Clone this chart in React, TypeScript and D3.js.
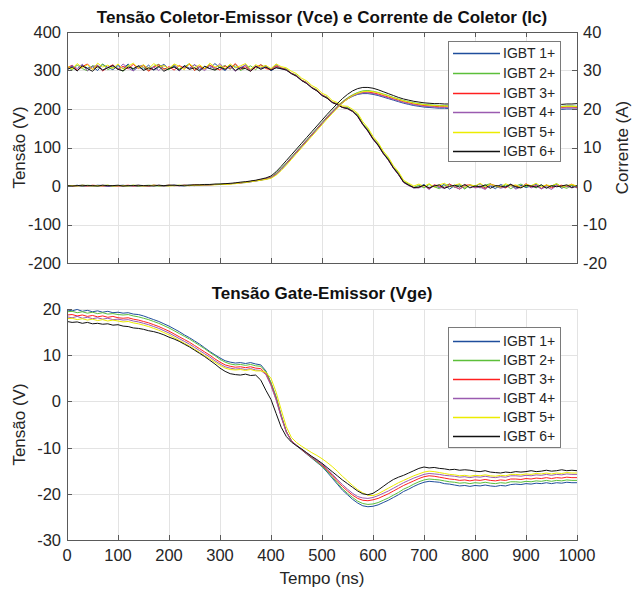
import React from "react";
import * as d3 from "d3";

// Sampling instants (ns), one value every 10 ns
const timeNs: number[] = d3.range(0, 1001, 10);

const seriesNames = ["IGBT 1+", "IGBT 2+", "IGBT 3+", "IGBT 4+", "IGBT 5+", "IGBT 6+"];
const seriesColors = ["#1f4e9c", "#5cbf3a", "#ff2020", "#9a5bb0", "#ecec00", "#111111"];

// Collector-emitter voltage Vce (V)
const vce1 = [304,312,299,315,306,310,300,316,308,302,313,305,317,300,309,303,314,301,308,316,304,311,299,313,306,315,302,310,305,318,307,300,312,309,303,315,301,310,306,313,299,308,304,
  303,292,287,274,268,255,249,235,230,217,213,204,203,194,183,160,145,122,108,85,70,47,32,10,4,-5,
  -3,4,-7,2,-4,5,-8,1,3,-6,2,-2,6,-5,0,-7,4,-1,5,-6,2,-4,0,5,-7,2,-2,4,-6,1,2,-5];
const vce2 = [310,301,314,305,299,313,307,317,302,309,306,298,315,303,312,308,300,311,316,305,302,314,304,309,318,300,310,305,315,301,308,313,303,316,300,306,312,302,315,307,304,313,306,
  304,293,288,275,269,256,250,236,231,218,214,205,204,195,185,162,147,124,110,87,72,49,34,12,5,-4,
  2,-5,4,-2,-7,1,5,-4,2,-8,3,0,-5,2,6,-2,-4,3,-7,0,5,-2,1,-5,3,-4,0,6,-2,-6,2,0];
const vce3 = [306,314,300,310,317,303,312,299,308,315,302,311,304,316,305,313,298,309,315,303,310,301,313,306,317,300,311,304,314,307,301,312,305,318,303,310,299,308,315,305,302,311,307,
  302,293,286,275,268,256,248,237,229,218,212,205,201,194,181,160,143,123,106,85,68,47,30,10,2,-4,
  -4,2,-7,3,0,-5,5,-2,-8,2,3,-4,0,-7,5,1,-2,-5,3,0,-4,6,-2,1,-7,3,-5,0,2,-2,5,-4];
const vce4 = [303,313,305,316,299,310,314,301,308,312,303,317,306,299,311,314,303,309,300,313,305,316,299,310,304,315,307,300,312,305,318,302,310,298,308,314,301,312,305,310,303,316,305,
  301,292,285,274,267,255,247,236,228,217,211,204,201,193,180,159,142,121,105,84,67,46,29,9,1,-5,
  -5,1,-9,2,-3,-6,3,-2,-8,0,2,-5,-3,-9,3,0,-6,-2,2,-8,-3,4,-5,0,-7,-2,-9,2,-3,0,-5,-1];
const vce5 = [312,304,318,307,315,302,319,309,314,305,317,303,311,319,306,315,304,318,309,313,305,317,311,302,318,307,315,304,319,309,313,305,317,307,312,318,303,315,309,313,305,317,310,
  307,298,292,280,273,261,254,241,235,222,217,208,207,199,189,167,151,129,113,91,75,53,37,15,7,0,
  5,-1,6,-3,3,7,-2,2,6,-4,3,0,7,-2,4,1,-3,6,0,3,-4,4,1,7,-2,3,0,6,-3,1,4,0];
const vce6 = [302,309,299,312,305,298,311,301,307,313,303,299,309,305,312,300,307,302,311,298,305,309,301,312,303,307,299,311,305,301,309,303,313,300,307,305,298,311,303,309,301,307,305,
  301,292,285,274,266,255,247,235,228,217,211,204,201,194,181,160,143,122,106,85,68,47,30,10,2,-4,
  -3,2,-5,0,3,-6,-1,2,-3,4,-5,0,-2,3,-6,1,0,-3,4,-2,-5,2,0,-3,3,-6,1,-2,0,3,-4,1];

// Collector current Ic (A)
const ic1 = [0.1,0.0,0.2,-0.1,0.1,0.0,0.2,0.1,-0.1,0.0,0.1,0.2,0.0,0.1,-0.1,0.1,0.0,0.2,0.1,0.0,0.1,0.2,0.1,0.0,0.2,0.1,0.3,0.2,0.3,0.4,
  0.4,0.5,0.6,0.7,0.8,0.9,1.1,1.3,1.5,1.8,2.1,
  3.0,4.3,5.7,7.2,8.7,10.2,11.7,13.2,14.7,16.2,17.7,19.1,20.4,
  21.6,22.6,23.3,23.8,24.0,24.0,23.8,23.5,23.1,22.7,22.3,21.9,21.5,21.2,20.9,20.7,20.5,
  20.4,20.3,20.2,20.2,20.1,20.0,20.1,20.0,19.9,20.0,20.0,19.9,20.0,20.1,19.9,20.0,19.9,20.0,20.1,20.0,19.9,20.0,20.0,19.9,20.1,20.0,19.9,20.0,20.0,19.9];
const ic2 = [0.0,0.1,0.1,0.0,0.2,0.1,0.0,0.1,0.2,0.0,0.1,0.0,0.1,0.2,0.0,0.1,0.2,0.1,0.0,0.1,0.2,0.1,0.2,0.1,0.2,0.2,0.3,0.3,0.4,0.4,
  0.5,0.5,0.6,0.7,0.9,1.0,1.2,1.4,1.6,1.9,2.3,
  3.3,4.6,6.0,7.5,9.0,10.5,12.0,13.5,15.0,16.5,18.0,19.4,20.7,
  21.9,22.9,23.7,24.3,24.7,24.8,24.6,24.3,23.9,23.5,23.0,22.6,22.2,21.9,21.6,21.4,21.2,
  21.1,21.0,20.9,20.9,20.8,20.8,20.7,20.8,20.7,20.8,20.7,20.8,20.8,20.7,20.8,20.7,20.8,20.8,20.7,20.8,20.8,20.7,20.8,20.8,20.7,20.8,20.7,20.8,20.8,20.7];
const ic3 = [0.1,0.0,0.1,0.1,0.0,0.2,0.1,0.0,0.1,0.1,0.0,0.1,0.2,0.0,0.1,0.1,0.0,0.2,0.1,0.1,0.2,0.1,0.1,0.2,0.1,0.3,0.2,0.3,0.3,0.4,
  0.4,0.5,0.6,0.7,0.8,1.0,1.2,1.4,1.6,1.9,2.2,
  3.1,4.4,5.8,7.3,8.8,10.3,11.8,13.3,14.8,16.3,17.8,19.2,20.5,
  21.7,22.7,23.5,24.0,24.3,24.4,24.2,23.9,23.5,23.1,22.7,22.3,21.9,21.6,21.3,21.1,20.9,
  20.8,20.7,20.6,20.6,20.5,20.5,20.4,20.5,20.4,20.5,20.5,20.4,20.5,20.4,20.5,20.5,20.4,20.5,20.4,20.5,20.5,20.4,20.5,20.5,20.4,20.5,20.4,20.5,20.5,20.4];
const ic4 = [0.0,0.1,0.0,0.1,0.1,0.0,0.1,0.2,0.0,0.1,0.1,0.0,0.1,0.1,0.2,0.0,0.1,0.1,0.2,0.0,0.1,0.2,0.1,0.1,0.2,0.2,0.2,0.3,0.3,0.4,
  0.4,0.5,0.6,0.7,0.8,1.0,1.1,1.3,1.6,1.8,2.2,
  3.1,4.4,5.8,7.3,8.8,10.3,11.8,13.3,14.8,16.3,17.8,19.2,20.5,
  21.6,22.6,23.4,23.9,24.2,24.2,24.0,23.7,23.3,22.9,22.5,22.1,21.7,21.4,21.1,20.9,20.7,
  20.6,20.5,20.4,20.4,20.3,20.3,20.2,20.3,20.2,20.3,20.3,20.2,20.3,20.2,20.3,20.3,20.2,20.3,20.2,20.3,20.3,20.2,20.3,20.3,20.2,20.3,20.2,20.3,20.3,20.2];
const ic5 = [0.1,0.1,0.0,0.2,0.1,0.0,0.1,0.1,0.2,0.0,0.1,0.1,0.0,0.2,0.1,0.0,0.1,0.2,0.1,0.1,0.0,0.1,0.2,0.1,0.1,0.2,0.2,0.3,0.3,0.3,
  0.4,0.4,0.5,0.6,0.8,0.9,1.1,1.3,1.5,1.7,2.0,
  2.8,4.0,5.4,6.9,8.4,9.9,11.4,12.9,14.4,15.9,17.4,18.8,20.2,
  21.5,22.6,23.5,24.1,24.5,24.6,24.5,24.2,23.8,23.4,22.9,22.5,22.1,21.8,21.5,21.3,21.1,
  21.0,20.9,20.8,20.8,20.7,20.7,20.6,20.7,20.6,20.7,20.7,20.6,20.7,20.6,20.7,20.7,20.6,20.7,20.6,20.7,20.7,20.6,20.7,20.7,20.6,20.7,20.6,20.7,20.7,20.6];
const ic6 = [0.1,0.0,0.1,0.2,0.1,0.1,0.0,0.2,0.1,0.1,0.2,0.0,0.1,0.1,0.2,0.1,0.1,0.0,0.2,0.1,0.2,0.2,0.1,0.2,0.2,0.3,0.3,0.4,0.4,0.5,
  0.5,0.6,0.7,0.8,1.0,1.1,1.3,1.5,1.8,2.1,2.6,
  3.7,5.1,6.6,8.1,9.6,11.1,12.6,14.1,15.6,17.1,18.6,20.0,21.4,
  22.7,23.8,24.7,25.3,25.6,25.6,25.4,25.0,24.5,24.0,23.5,23.0,22.6,22.3,22.0,21.8,21.6,
  21.5,21.4,21.4,21.3,21.3,21.4,21.3,21.2,21.3,21.3,21.4,21.3,21.2,21.3,21.4,21.3,21.3,21.2,21.3,21.4,21.3,21.3,21.2,21.3,21.4,21.3,21.2,21.3,21.3,21.4];

// Gate-emitter voltage Vge (V)
const vge1 = [19.8,19.6,19.9,19.5,19.7,19.4,19.6,19.3,19.5,19.2,19.3,
  19.1,19.2,18.9,18.8,18.5,18.1,17.7,17.3,16.8,16.3,
  15.7,15.1,14.4,13.8,13.1,12.4,11.6,10.8,10.1,9.4,
  8.8,8.5,8.3,8.4,8.2,8.4,8.1,7.9,6.6,4.0,
  1.0,-3.0,-6.5,-8.5,-9.6,-10.5,-11.4,-12.3,-13.2,-14.1,
  -15.3,-16.6,-17.9,-19.2,-20.2,-21.2,-22.0,-22.6,-22.8,-22.7,
  -22.4,-21.9,-21.4,-20.8,-20.2,-19.5,-19.0,-18.4,-17.9,-17.5,
  -17.3,-17.4,-17.5,-17.8,-17.9,-18.1,-18.3,-18.2,-18.4,-18.2,
  -18.3,-18.1,-18.3,-18.4,-18.2,-18.3,-18.0,-17.9,-18.0,-17.8,
  -17.9,-17.7,-17.8,-17.6,-17.8,-17.6,-17.7,-17.5,-17.6,-17.6];
const vge2 = [19.4,19.5,19.2,19.4,19.1,19.3,19.0,19.2,18.9,19.0,18.8,
  18.7,18.8,18.5,18.3,18.0,17.7,17.3,16.9,16.4,15.9,
  15.3,14.7,14.1,13.5,12.8,12.1,11.4,10.6,9.9,9.1,
  8.5,8.1,7.9,8.0,7.8,8.0,7.7,7.6,6.4,4.0,
  0.8,-3.1,-6.5,-8.5,-9.5,-10.4,-11.3,-12.2,-13.1,-14.0,
  -15.1,-16.3,-17.6,-18.9,-19.9,-20.8,-21.6,-22.1,-22.3,-22.2,
  -21.9,-21.4,-20.9,-20.3,-19.7,-19.0,-18.5,-17.9,-17.4,-17.0,
  -16.8,-16.9,-17.0,-17.2,-17.4,-17.5,-17.7,-17.6,-17.8,-17.6,
  -17.7,-17.5,-17.7,-17.8,-17.6,-17.7,-17.4,-17.4,-17.5,-17.3,
  -17.4,-17.2,-17.3,-17.1,-17.3,-17.1,-17.2,-17.0,-17.1,-17.1];
const vge3 = [18.7,18.8,18.5,18.7,18.4,18.6,18.3,18.5,18.2,18.4,18.1,
  18.0,18.1,17.8,17.6,17.3,17.0,16.6,16.2,15.7,15.2,
  14.6,14.0,13.4,12.8,12.1,11.4,10.7,10.0,9.2,8.5,
  7.9,7.6,7.4,7.5,7.3,7.5,7.2,7.1,6.0,3.6,
  0.5,-3.3,-6.6,-8.5,-9.5,-10.4,-11.3,-12.1,-12.9,-13.8,
  -14.8,-16.0,-17.2,-18.4,-19.4,-20.3,-21.0,-21.4,-21.5,-21.3,
  -21.0,-20.5,-20.0,-19.4,-18.8,-18.2,-17.7,-17.2,-16.7,-16.3,
  -16.1,-16.2,-16.4,-16.6,-16.8,-16.9,-17.1,-17.0,-17.2,-17.0,
  -17.1,-16.9,-17.1,-17.2,-17.0,-17.1,-16.8,-16.8,-16.9,-16.7,
  -16.8,-16.6,-16.7,-16.5,-16.7,-16.5,-16.6,-16.4,-16.5,-16.5];
const vge4 = [18.3,18.1,18.4,18.0,18.2,17.9,18.1,17.8,18.0,17.7,17.8,
  17.6,17.7,17.4,17.2,16.9,16.6,16.2,15.8,15.3,14.8,
  14.2,13.6,13.0,12.4,11.7,11.0,10.3,9.6,8.8,8.1,
  7.5,7.2,7.0,7.1,6.9,7.1,6.8,6.7,5.8,3.4,
  0.3,-3.4,-6.7,-8.6,-9.5,-10.3,-11.2,-12.0,-12.8,-13.6,
  -14.6,-15.7,-16.9,-18.0,-19.0,-19.9,-20.6,-20.9,-21.0,-20.8,
  -20.4,-19.9,-19.4,-18.8,-18.2,-17.6,-17.1,-16.6,-16.2,-15.8,
  -15.6,-15.7,-15.8,-16.0,-16.1,-16.2,-16.4,-16.3,-16.5,-16.3,
  -16.4,-16.2,-16.4,-16.5,-16.3,-16.4,-16.1,-16.1,-16.2,-16.0,
  -16.1,-15.9,-16.0,-15.8,-16.0,-15.8,-15.9,-15.7,-15.8,-15.8];
const vge5 = [17.9,18.0,17.7,17.9,17.6,17.8,17.5,17.7,17.4,17.6,17.4,
  17.2,17.3,17.0,16.8,16.5,16.2,15.8,15.4,14.9,14.4,
  13.8,13.2,12.6,12.0,11.3,10.6,9.9,9.2,8.5,7.8,
  7.2,6.9,6.8,6.9,6.7,6.9,6.6,6.6,6.3,5.0,
  2.0,-1.8,-5.5,-7.8,-8.9,-9.7,-10.4,-11.1,-11.7,-12.4,
  -13.2,-14.1,-15.1,-16.2,-17.2,-18.2,-19.1,-19.8,-20.3,-20.4,
  -20.0,-19.4,-18.8,-18.2,-17.6,-17.1,-16.6,-16.1,-15.7,-15.3,
  -15.1,-15.2,-15.4,-15.6,-15.8,-15.9,-16.1,-16.0,-16.2,-16.0,
  -16.1,-15.9,-16.1,-16.2,-16.0,-16.1,-15.8,-15.8,-15.9,-15.7,
  -15.8,-15.6,-15.7,-15.5,-15.7,-15.5,-15.6,-15.4,-15.5,-15.5];
const vge6 = [17.3,17.1,17.2,16.9,17.1,16.8,16.9,16.7,16.8,16.5,16.6,
  16.3,16.2,15.9,15.8,15.6,15.3,15.1,14.8,14.4,13.9,
  13.5,13.0,12.4,11.8,11.1,10.4,9.7,8.9,8.1,7.2,
  6.5,6.0,5.8,5.7,5.9,5.6,5.7,4.6,2.4,0.4,
  -2.6,-5.6,-7.6,-8.8,-9.6,-10.3,-11.1,-11.9,-12.6,-13.4,
  -14.3,-15.2,-16.1,-17.0,-17.8,-18.6,-19.4,-20.0,-20.2,-19.9,
  -19.2,-18.4,-17.6,-16.9,-16.4,-16.0,-15.5,-15.0,-14.5,-14.2,
  -14.4,-14.3,-14.5,-14.6,-14.8,-14.7,-14.9,-14.8,-14.9,-15.1,
  -15.2,-15.0,-15.3,-15.4,-15.5,-15.3,-15.4,-15.2,-15.3,-15.2,
  -15.0,-15.2,-15.1,-14.9,-15.1,-15.0,-14.8,-15.0,-14.9,-15.0];

const vceSeries = [vce1, vce2, vce3, vce4, vce5, vce6];
const icSeries = [ic1, ic2, ic3, ic4, ic5, ic6];
const vgeSeries = [vge1, vge2, vge3, vge4, vge5, vge6];

const timeTicks = [0, 100, 200, 300, 400, 500, 600, 700, 800, 900, 1000];
const vceTicks = [-200, -100, 0, 100, 200, 300, 400];
const icTicks = [-20, -10, 0, 10, 20, 30, 40];
const vgeTicks = [-30, -20, -10, 0, 10, 20];

const FONT = "'Liberation Sans', Arial, Helvetica, sans-serif";
const TEXT = "#262626";
const AXIS = "#5a5a5a";
const GRID = "#e3e3e3";
const TICK = 5;
const TICK_FS = 16.5;
const LABEL_FS = 17;
const TITLE_FS = 17;

export default function App() {
  const x = d3.scaleLinear().domain([0, 1000]).range([67, 577]);
  const yV = d3.scaleLinear().domain([-200, 400]).range([263, 32]);
  const yI = d3.scaleLinear().domain([-20, 40]).range([263, 32]);
  const yG = d3.scaleLinear().domain([-30, 20]).range([540, 309]);

  const lineOf = (ys: d3.ScaleLinear<number, number>) =>
    d3.line<number>().x((_, i) => x(timeNs[i])).y((d) => ys(d));

  const lineV = lineOf(yV);
  const lineI = lineOf(yI);
  const lineG = lineOf(yG);

  const [x0, x1] = x.range();
  const topY0 = yV.range()[1];
  const topY1 = yV.range()[0];
  const botY0 = yG.range()[1];
  const botY1 = yG.range()[0];
  const px = (v: number) => Math.round(v) + 0.5;

  const legend = (bx: number, by: number, rowY: number[]) => (
    <g>
      <rect x={bx + 0.5} y={by + 0.5} width={112} height={120} fill="#fff" stroke="#7a7a7a" strokeWidth={1} />
      {seriesNames.map((name, i) => (
        <g key={name}>
          <line x1={bx + 5} x2={bx + 52} y1={rowY[i] + 0.5} y2={rowY[i] + 0.5} stroke={seriesColors[i]} strokeWidth={1.3} />
          <text x={bx + 55} y={rowY[i]} dy="0.36em" fontSize={14} fill={TEXT} fontFamily={FONT}>
            {name}
          </text>
        </g>
      ))}
    </g>
  );

  return (
    <svg width={633} height={590} style={{ position: "absolute", left: 0, top: 0, background: "#fff" }}>
      <rect width={633} height={590} fill="#fff" />

      {/* ---------- Upper panel: Vce (left axis) and Ic (right axis) ---------- */}
      <g>
        {timeTicks.map((t) => (
          <line key={"gx" + t} x1={px(x(t))} x2={px(x(t))} y1={topY0} y2={topY1} stroke={GRID} />
        ))}
        {vceTicks.map((v) => (
          <line key={"gy" + v} x1={x0} x2={x1} y1={px(yV(v))} y2={px(yV(v))} stroke={GRID} />
        ))}

        <g fill="none" strokeWidth={1}>
          {vceSeries.map((s, i) => (
            <path key={"vce" + i} d={lineV(s) || ""} stroke={seriesColors[i]} />
          ))}
          {icSeries.map((s, i) => (
            <path key={"ic" + i} d={lineI(s) || ""} stroke={seriesColors[i]} />
          ))}
        </g>

        {/* box */}
        <rect x={x0 + 0.5} y={topY0 + 0.5} width={x1 - x0} height={topY1 - topY0} fill="none" stroke={AXIS} />
        {timeTicks.map((t) => (
          <g key={"tx" + t}>
            <line x1={px(x(t))} x2={px(x(t))} y1={topY0} y2={topY0 + TICK} stroke={AXIS} />
            <line x1={px(x(t))} x2={px(x(t))} y1={topY1} y2={topY1 - TICK} stroke={AXIS} />
          </g>
        ))}
        {vceTicks.map((v) => (
          <g key={"tl" + v}>
            <line x1={x0} x2={x0 + TICK} y1={px(yV(v))} y2={px(yV(v))} stroke={AXIS} />
            <text x={61} y={yV(v)} dy="0.36em" textAnchor="end" fontSize={TICK_FS} fill={TEXT} fontFamily={FONT}>
              {v}
            </text>
          </g>
        ))}
        {icTicks.map((v) => (
          <g key={"tr" + v}>
            <line x1={x1 - TICK} x2={x1} y1={px(yI(v))} y2={px(yI(v))} stroke={AXIS} />
            <text x={583} y={yI(v)} dy="0.36em" textAnchor="start" fontSize={TICK_FS} fill={TEXT} fontFamily={FONT}>
              {v}
            </text>
          </g>
        ))}

        <text x={322} y={23} textAnchor="middle" fontSize={TITLE_FS} fontWeight="bold" fill="#111" fontFamily={FONT}>
          Tensão Coletor-Emissor (Vce) e Corrente de Coletor (Ic)
        </text>
        <text transform={`translate(19,${(topY0 + topY1) / 2}) rotate(-90)`} textAnchor="middle" dy="0.35em" fontSize={LABEL_FS} fill={TEXT} fontFamily={FONT}>
          Tensão (V)
        </text>
        <text transform={`translate(622,${(topY0 + topY1) / 2}) rotate(-90)`} textAnchor="middle" dy="0.35em" fontSize={LABEL_FS} fill={TEXT} fontFamily={FONT}>
          Corrente (A)
        </text>

        {legend(448, 41, [53, 73, 93, 112, 132, 151])}
      </g>

      {/* ---------- Lower panel: Vge ---------- */}
      <g>
        {timeTicks.map((t) => (
          <line key={"bgx" + t} x1={px(x(t))} x2={px(x(t))} y1={botY0} y2={botY1} stroke={GRID} />
        ))}
        {vgeTicks.map((v) => (
          <line key={"bgy" + v} x1={x0} x2={x1} y1={px(yG(v))} y2={px(yG(v))} stroke={GRID} />
        ))}

        <g fill="none" strokeWidth={1}>
          {vgeSeries.map((s, i) => (
            <path key={"vge" + i} d={lineG(s) || ""} stroke={seriesColors[i]} />
          ))}
        </g>

        <line x1={x0 + 0.5} x2={x0 + 0.5} y1={botY0} y2={botY1 + 0.5} stroke={AXIS} />
        <line x1={x0} x2={x1 + 1} y1={botY1 + 0.5} y2={botY1 + 0.5} stroke={AXIS} />
        {timeTicks.map((t) => (
          <g key={"btx" + t}>
            <line x1={px(x(t))} x2={px(x(t))} y1={botY1} y2={botY1 - TICK} stroke={AXIS} />
            <text x={x(t)} y={555} dy="0.36em" textAnchor="middle" fontSize={TICK_FS} fill={TEXT} fontFamily={FONT}>
              {t}
            </text>
          </g>
        ))}
        {vgeTicks.map((v) => (
          <g key={"bty" + v}>
            <line x1={x0} x2={x0 + TICK} y1={px(yG(v))} y2={px(yG(v))} stroke={AXIS} />
            <text x={61} y={yG(v)} dy="0.36em" textAnchor="end" fontSize={TICK_FS} fill={TEXT} fontFamily={FONT}>
              {v}
            </text>
          </g>
        ))}

        <text x={322} y={299} textAnchor="middle" fontSize={TITLE_FS} fontWeight="bold" fill="#111" fontFamily={FONT}>
          Tensão Gate-Emissor (Vge)
        </text>
        <text transform={`translate(19,${(botY0 + botY1) / 2}) rotate(-90)`} textAnchor="middle" dy="0.35em" fontSize={LABEL_FS} fill={TEXT} fontFamily={FONT}>
          Tensão (V)
        </text>
        <text x={322} y={578} dy="0.35em" textAnchor="middle" fontSize={LABEL_FS} fill={TEXT} fontFamily={FONT}>
          Tempo (ns)
        </text>

        {legend(448, 327, [341, 360, 379, 398, 417, 436])}
      </g>
    </svg>
  );
}
